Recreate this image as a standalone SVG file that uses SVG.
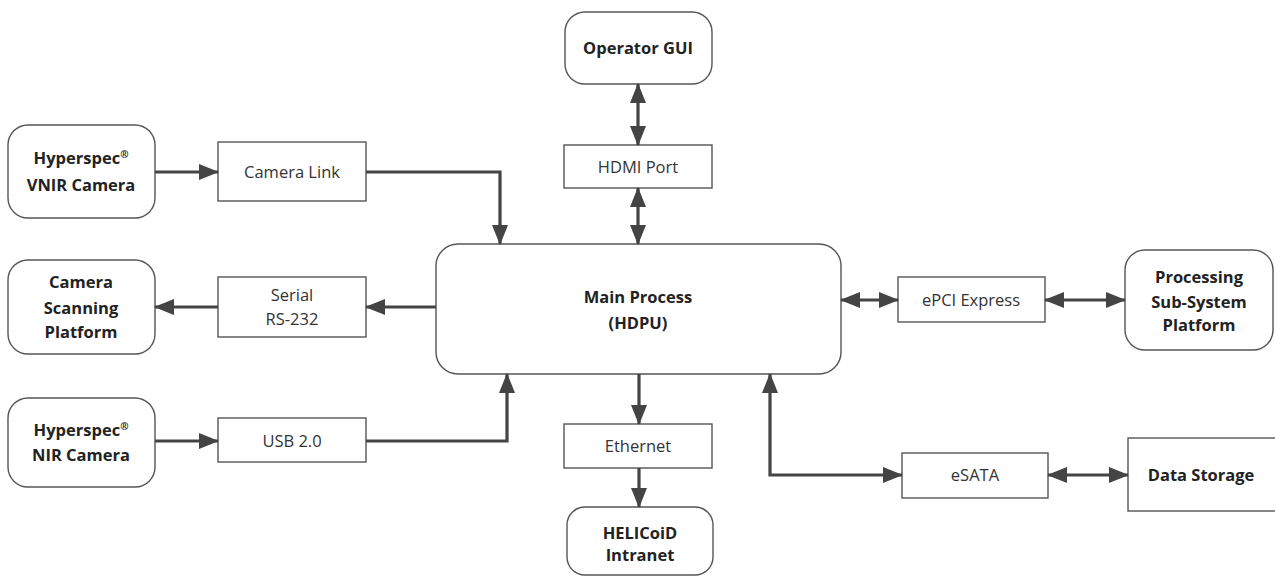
<svg xmlns="http://www.w3.org/2000/svg" width="1275" height="576" viewBox="0 0 1275 576">
<style>
  .node { fill: #fff; stroke: #555; stroke-width: 1.4; }
  .t { font-family: "Open Sans", "Liberation Sans", sans-serif; font-size: 16.5px; fill: #333; text-anchor: middle; }
  .b { font-weight: bold; fill: #222; }
  .c { fill: none; stroke: #444; stroke-width: 3.2; }
</style>
<defs>
  <marker id="ah" viewBox="0 0 20 16" refX="19" refY="8" markerWidth="20" markerHeight="16" markerUnits="userSpaceOnUse" orient="auto-start-reverse">
    <path d="M0,0 L20,8 L0,16 Z" fill="#444"/>
  </marker>
</defs>
<rect width="1275" height="576" fill="#fff"/>

<g id="vnir-camera">
  <rect class="node" x="8" y="125" width="147" height="93" rx="20"/>
  <text class="t b" x="81" y="164">Hyperspec<tspan font-size="10" dy="-6">®</tspan></text>
  <text class="t b" x="81" y="191">VNIR Camera</text>
</g>
<g id="camera-link">
  <rect class="node" x="218" y="142" width="148" height="59"/>
  <text class="t" x="292" y="178">Camera Link</text>
</g>
<g id="scanning-platform">
  <rect class="node" x="8" y="260" width="147" height="94" rx="20"/>
  <text class="t b" x="81" y="288">Camera</text>
  <text class="t b" x="81" y="314">Scanning</text>
  <text class="t b" x="81" y="338">Platform</text>
</g>
<g id="serial">
  <rect class="node" x="218" y="277" width="148" height="60"/>
  <text class="t" x="292" y="301">Serial</text>
  <text class="t" x="292" y="325">RS-232</text>
</g>
<g id="nir-camera">
  <rect class="node" x="8" y="398" width="147" height="89" rx="20"/>
  <text class="t b" x="81" y="436">Hyperspec<tspan font-size="10" dy="-6">®</tspan></text>
  <text class="t b" x="81" y="461">NIR Camera</text>
</g>
<g id="usb">
  <rect class="node" x="218" y="418" width="148" height="44"/>
  <text class="t" x="292" y="447">USB 2.0</text>
</g>
<g id="operator-gui">
  <rect class="node" x="565" y="12" width="147" height="72" rx="20"/>
  <text class="t b" x="638" y="54">Operator GUI</text>
</g>
<g id="hdmi">
  <rect class="node" x="564" y="145" width="148" height="43"/>
  <text class="t" x="638" y="173">HDMI Port</text>
</g>
<g id="main-process">
  <rect class="node" x="436" y="244" width="405" height="130" rx="22"/>
  <text class="t b" x="638" y="303">Main Process</text>
  <text class="t b" x="638" y="329">(HDPU)</text>
</g>
<g id="epci">
  <rect class="node" x="898" y="277" width="147" height="45"/>
  <text class="t" x="971" y="306">ePCI Express</text>
</g>
<g id="processing">
  <rect class="node" x="1125" y="250" width="148" height="100" rx="20"/>
  <text class="t b" x="1199" y="283">Processing</text>
  <text class="t b" x="1199" y="308">Sub-System</text>
  <text class="t b" x="1199" y="331">Platform</text>
</g>
<g id="ethernet">
  <rect class="node" x="564" y="424" width="148" height="44"/>
  <text class="t" x="638" y="452">Ethernet</text>
</g>
<g id="helicoid">
  <rect class="node" x="567" y="507" width="146" height="68" rx="18"/>
  <text class="t b" x="640" y="539">HELICoiD</text>
  <text class="t b" x="640" y="561">Intranet</text>
</g>
<g id="esata">
  <rect class="node" x="902" y="453" width="146" height="45"/>
  <text class="t" x="975" y="481">eSATA</text>
</g>
<g id="data-storage">
  <rect class="node" x="1128" y="438" width="160" height="73"/>
  <text class="t b" x="1201" y="481">Data Storage</text>
</g>

<g id="connectors">
  <path class="c" d="M155,172 H218" marker-end="url(#ah)"/>
  <path class="c" d="M366,172 H500 V244" marker-end="url(#ah)"/>
  <path class="c" d="M436,307 H366" marker-end="url(#ah)"/>
  <path class="c" d="M218,307 H155" marker-end="url(#ah)"/>
  <path class="c" d="M155,441 H218" marker-end="url(#ah)"/>
  <path class="c" d="M366,441 H507 V374" marker-end="url(#ah)"/>
  <path class="c" d="M638,84 V145" marker-start="url(#ah)" marker-end="url(#ah)"/>
  <path class="c" d="M638,188 V244" marker-start="url(#ah)" marker-end="url(#ah)"/>
  <path class="c" d="M841,300 H898" marker-start="url(#ah)" marker-end="url(#ah)"/>
  <path class="c" d="M1045,300 H1125" marker-start="url(#ah)" marker-end="url(#ah)"/>
  <path class="c" d="M639,374 V424" marker-end="url(#ah)"/>
  <path class="c" d="M639,468 V507" marker-end="url(#ah)"/>
  <path class="c" d="M770,374 V475 H902" marker-start="url(#ah)" marker-end="url(#ah)"/>
  <path class="c" d="M1048,475 H1128" marker-start="url(#ah)" marker-end="url(#ah)"/>
</g>
</svg>
